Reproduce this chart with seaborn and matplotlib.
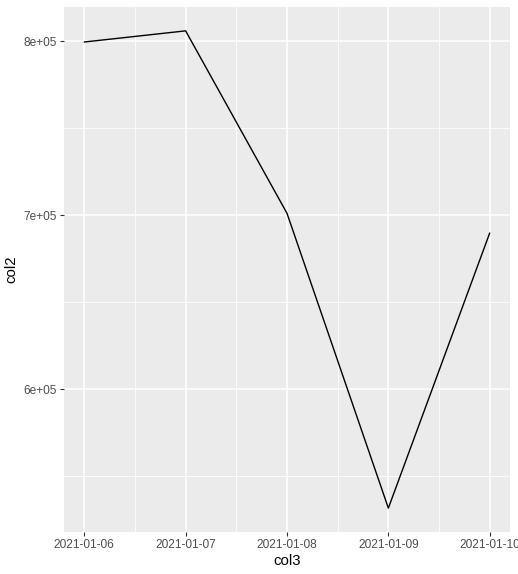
import pandas as pd
import numpy as np
import matplotlib
matplotlib.use('Agg')
import matplotlib.pyplot as plt
import matplotlib.dates as mdates
from matplotlib.ticker import FuncFormatter, MultipleLocator
import seaborn as sns

# data
col3 = ['2021-01-06', '2021-01-07', '2021-01-08', '2021-01-09', '2021-01-10']
col2 = [799600, 806000, 701100, 531600, 689800]

df = pd.DataFrame({'col3': pd.to_datetime(col3), 'col2': col2})

sns.set_style('darkgrid', {'axes.facecolor': '#EBEBEB', 'grid.color': 'white'})
plt.rcParams['font.family'] = ['Liberation Sans', 'DejaVu Sans']

fig = plt.figure(figsize=(5.18, 5.74), dpi=100)
ax = fig.add_axes([64 / 518, 42 / 574, 446 / 518, 525 / 574])

sns.lineplot(data=df, x='col3', y='col2', color='black', linewidth=1.0, ax=ax)

# ggplot-like expansion of 5%
x0, x1 = mdates.date2num(df['col3'].min()), mdates.date2num(df['col3'].max())
dx = (x1 - x0) * 0.05
ax.set_xlim(x0 - dx, x1 + dx)
y0, y1 = min(col2), max(col2)
dy = (y1 - y0) * 0.05
ax.set_ylim(y0 - dy, y1 + dy)

ax.xaxis.set_major_locator(mdates.DayLocator())
ax.xaxis.set_minor_locator(mdates.HourLocator(byhour=12))
ax.xaxis.set_major_formatter(mdates.DateFormatter('%Y-%m-%d'))
ax.yaxis.set_major_locator(MultipleLocator(100000))
ax.yaxis.set_minor_locator(MultipleLocator(50000))
ax.yaxis.set_major_formatter(FuncFormatter(lambda v, p: f'{v:.0e}'))

ax.grid(which='major', color='white', linewidth=1.1)
ax.grid(which='minor', color='white', linewidth=0.55)
ax.set_axisbelow(True)
for s in ax.spines.values():
    s.set_visible(False)

ax.tick_params(which='major', length=3, width=0.8, color='#333333',
               labelsize=8.6, labelcolor='#4D4D4D', pad=2, bottom=True, left=True)
ax.tick_params(which='minor', length=0)
ax.set_xlabel('col3', fontsize=10.8, color='black', labelpad=2)
ax.set_ylabel('col2', fontsize=10.8, color='black', labelpad=4)

fig.savefig('out.png', dpi=100)
